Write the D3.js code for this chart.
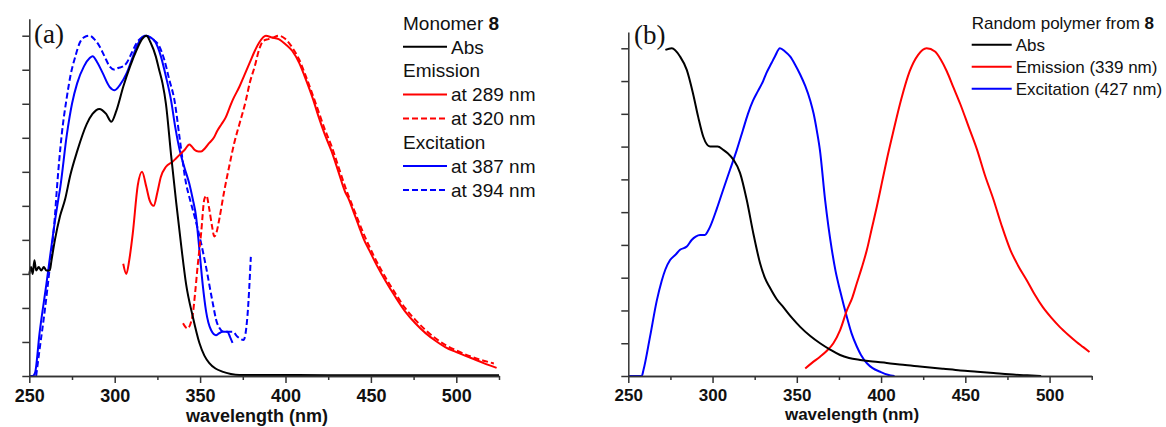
<!DOCTYPE html>
<html>
<head>
<meta charset="utf-8">
<script src="https://cdn.jsdelivr.net/npm/d3@7"></script>
<style>
  body { margin: 0; background: #fff; }
  svg { display: block; }
  .tekst { font-family: Arial, "Liberation Sans", sans-serif; fill: #111; }
  .paneel { font-family: "Times New Roman", "Liberation Serif", serif; fill: #111; }
  .as path, .as line { stroke: #333; stroke-width: 1.5; }
  .as text { font-family: Arial, "Liberation Sans", sans-serif; font-weight: bold; fill: #111; }
</style>
</head>
<body>
<div id="grafiek"></div>
<script>

// data: [golflengte (nm), genormaliseerde intensiteit]
var absA = [[250,0.30],[251,0.32],[252,0.30],[253,0.34],[254,0.31],[255.5,0.32],[257,0.31],[258.5,0.32],[260,0.31],[262,0.31],
  [263,0.34],[265,0.40],[268,0.47],[271,0.52],[274,0.59],[278,0.66],[283.6,0.74],[287,0.77],[291,0.785],[295,0.77],[298,0.747],
  [301,0.78],[305,0.85],[309,0.91],[313,0.96],[316,0.99],[318.6,1.0],[321,0.98],[324,0.94],[326,0.90],[328,0.86],[330,0.80],
  [333,0.65],[336,0.51],[339,0.38],[341.8,0.27],[345.7,0.175],[349.6,0.097],[352.5,0.06],[355.4,0.038],[359,0.022],[363,0.013],
  [368,0.006],[373,0.003],[400,0.003],[450,0.002],[500,0.002],[525,0.002]];

var emA289 = [[305,0.33],[306.8,0.30],[308.5,0.34],[310.6,0.42],[313.5,0.56],[316,0.60],[318.5,0.556],[320.4,0.517],[322.8,0.50],
  [325,0.54],[327,0.585],[330,0.615],[334,0.63],[336,0.64],[339,0.655],[341,0.665],[343.7,0.68],[345,0.675],[346.7,0.665],
  [349,0.66],[350.6,0.66],[353,0.67],[355.4,0.685],[358,0.70],[360,0.72],[362.5,0.74],[365,0.76],[367,0.785],[369,0.81],
  [373,0.85],[376,0.885],[379,0.92],[382,0.955],[384.6,0.98],[388.5,1.0],[392,0.995],
  [396,0.99],[400,0.975],[404,0.955],[408,0.92],[412,0.87],[416,0.815],[419.5,0.76],[423,0.71],[427,0.66],[431,0.60],[435,0.54],
  [437,0.52],[440,0.48],[443,0.44],[446,0.40],[449,0.37],[454,0.32],[458.5,0.28],[464,0.235],[470,0.19],[476,0.155],[482,0.126],
  [488,0.103],[493.5,0.085],[500,0.07],[508.6,0.053],[516,0.038],[523.6,0.024]];

var emA320 = [[340,0.155],[342.6,0.14],[345.5,0.175],[347,0.24],[348.5,0.32],[350.6,0.42],[352.5,0.52],[353.7,0.53],[355.4,0.49],
  [357,0.44],[358.3,0.41],[359.5,0.42],[361.2,0.46],[364,0.54],[367,0.615],[370,0.685],[373,0.74],[376.8,0.81],[379,0.86],
  [382,0.91],[384.6,0.96],[387,0.985],[390,0.99],[393,0.995],[396,1.0],[400,0.99],[404,0.965],[408,0.93],[412,0.88],[416,0.825],
  [419.5,0.775],[423,0.725],[427,0.675],[431,0.615],[435,0.555],[440,0.49],[446,0.415],[452,0.35],[458.5,0.29],[464,0.245],
  [470,0.2],[476,0.165],[482,0.135],[488,0.11],[494,0.09],[500,0.075],[508,0.058],[516,0.045],[522,0.037]];

var exA387 = [[250,0],[252,0],[253.4,0.01],[256,0.126],[260,0.27],[264,0.42],[267,0.52],[268,0.55],[272,0.71],[275,0.80],
  [278,0.86],[282,0.91],[285.5,0.935],[287,0.94],[290,0.92],[293,0.89],[297,0.85],[300,0.84],[303,0.855],[307,0.89],[310,0.93],
  [313,0.97],[317.5,1.0],[321,0.995],[324,0.98],[327,0.94],[330,0.88],[333,0.81],[335.5,0.73],[338,0.665],[341,0.61],
  [343.7,0.565],[345.7,0.52],[347.6,0.47],[349.6,0.37],[351.5,0.27],[353.5,0.19],[356.4,0.135],[359.3,0.12],[361,0.125],
  [363,0.13],[366,0.13],[367.5,0.115],[369,0.097]];

var exA394 = [[254,0],[256,0.077],[259,0.19],[262,0.32],[265,0.47],[266,0.54],[269,0.71],[272,0.82],[274,0.88],[277,0.94],
  [279.6,0.98],[282,0.995],[285.5,1.0],[288,0.99],[291,0.97],[294,0.94],[297,0.91],[300,0.9],[302,0.905],[305,0.91],[307,0.92],
  [310,0.95],[313,0.98],[316,0.995],[318.6,1.0],[322,0.99],[326,0.97],[329,0.93],[332,0.87],[335,0.81],[338,0.70],[341.8,0.565],
  [344,0.52],[346.7,0.47],[350.6,0.39],[353.5,0.32],[357.2,0.22],[360,0.155],[364,0.13],[369,0.13],[372,0.115],[375.4,0.106],
  [377.7,0.175],[379.7,0.35]];

var absB = [[272,0.995],[275.8,1.0],[280.7,0.975],[284.7,0.934],[288.5,0.86],[291.5,0.79],[294.5,0.73],[298.5,0.70],[303,0.70],
  [306.4,0.69],[309,0.68],[312.4,0.66],[316.3,0.62],[320.3,0.537],[324.2,0.435],[328.2,0.344],[331,0.30],[334,0.27],[338,0.235],
  [342,0.21],[347,0.178],[352,0.15],[358,0.122],[363.8,0.10],[370,0.08],[375.7,0.064],[381,0.055],[387.6,0.049],[395,0.044],
  [403.4,0.04],[413,0.034],[423,0.029],[437,0.022],[447,0.017],[457,0.013],[466.7,0.009],[476,0.005],[486.7,0.002],[495,0.0]];

var emB = [[355,0.023],[359,0.04],[363.8,0.059],[368,0.078],[371.7,0.10],[375.7,0.14],[379.7,0.20],[383,0.24],[385.6,0.283],
  [388.5,0.33],[391.6,0.385],[394.5,0.45],[397.5,0.517],[400.5,0.59],[403.4,0.66],[407,0.74],[412,0.845],[417,0.93],[422,0.98],
  [427,1.0],[432,0.99],[435.5,0.965],[439,0.93],[443,0.88],[447,0.83],[452,0.76],[457,0.69],[461.5,0.615],[466.6,0.54],
  [471.5,0.46],[476.7,0.385],[481.5,0.335],[486.7,0.29],[491,0.25],[496,0.21],[501,0.178],[506,0.15],[511,0.126],[516,0.104],
  [520,0.088],[523.7,0.073]];

var exB = [[250,0],[258,0],[259,0.018],[262.9,0.12],[266.9,0.23],[269.8,0.29],[272,0.325],[274.8,0.354],[278,0.37],[280.7,0.385],
  [284.7,0.395],[287.6,0.415],[290,0.425],[292.6,0.43],[295.5,0.43],[297,0.44],[298.5,0.455],[302.5,0.51],[306.4,0.57],
  [310.4,0.63],[314.4,0.69],[318,0.75],[321,0.80],[324,0.84],[327,0.87],[330,0.90],[332,0.925],[335,0.955],[337,0.975],
  [340,1.0],[343,0.99],[346,0.975],[349,0.95],[352,0.92],[355,0.885],[358,0.84],[360,0.80],[362,0.745],[363.7,0.69],
  [366.8,0.537],[370.8,0.385],[373,0.32],[375.7,0.26],[379.7,0.18],[382.5,0.13],[385.6,0.09],[388,0.065],[391.6,0.039],
  [395,0.024],[399.5,0.013],[404,0.004],[408,0.0]];

// tick labels en legenda teksten
var xMajor = [250, 300, 350, 400, 450, 500];
var xMinor = [275, 325, 375, 425, 475, 525];
var yTicks = [0, 0.1, 0.2, 0.3, 0.4, 0.5, 0.6, 0.7, 0.8, 0.9, 1.0];
var legendaA = [
  {kop: "Monomer ", vet: "8"},
  {label: "Abs", data: absA, kleur: "#000000", streep: null},
  {kop: "Emission"},
  {label: "at 289 nm", data: emA289, kleur: "#ff0000", streep: null},
  {label: "at 320 nm", data: emA320, kleur: "#ff0000", streep: "6,3"},
  {kop: "Excitation"},
  {label: "at 387 nm", data: exA387, kleur: "#0000ff", streep: null},
  {label: "at 394 nm", data: exA394, kleur: "#0000ff", streep: "6,3"}
];
var legendaB = [
  {kop: "Random polymer from ", vet: "8"},
  {label: "Abs", data: absB, kleur: "#000000", streep: null},
  {label: "Emission (339 nm)", data: emB, kleur: "#ff0000", streep: null},
  {label: "Excitation (427 nm)", data: exB, kleur: "#0000ff", streep: null}
];

var breedte = 1166, hoogte = 427;

var svg = d3.select("#grafiek")
            .append("svg")
            .attr("width", breedte)
            .attr("height", hoogte);

function paneel(opties) {

  var x = d3.scaleLinear().domain([250, 525]).range([opties.links, opties.rechts]);
  var y = d3.scaleLinear().domain([0, 1.05]).range([opties.onder, opties.boven]);

  var g = svg.append("g");

  // de curves
  var lijn = d3.line()
               .x(function(d) { return x(d[0]); })
               .y(function(d) { return y(d[1]); })
               .curve(d3.curveMonotoneX);

  var series = opties.legenda.filter(function(d) { return d.data; });

  g.selectAll(".curve")
   .data(series.slice().reverse())
   .enter()
   .append("path")
   .attr("class", "curve")
   .attr("d", function(d) { return lijn(d.data); })
   .attr("fill", "none")
   .attr("stroke", function(d) { return d.kleur; })
   .attr("stroke-width", 2)
   .attr("stroke-dasharray", function(d) { return d.streep; });

  // x as: grote en kleine streepjes
  g.append("g")
   .attr("class", "as")
   .attr("transform", "translate(0," + opties.onder + ")")
   .call(d3.axisBottom(x).tickValues(xMinor).tickSize(4).tickFormat("").tickSizeOuter(0));

  g.append("g")
   .attr("class", "as")
   .attr("transform", "translate(0," + opties.onder + ")")
   .call(d3.axisBottom(x).tickValues(xMajor).tickSize(7).tickPadding(6).tickSizeOuter(0))
   .selectAll("text")
   .style("font-size", opties.fontAs + "px");

  // y as zonder labels
  g.append("g")
   .attr("class", "as")
   .attr("transform", "translate(" + opties.links + ",0)")
   .call(d3.axisLeft(y).tickValues(yTicks).tickSize(7).tickFormat("").tickSizeOuter(0));

  // as titel
  g.append("text")
   .attr("class", "tekst")
   .attr("x", opties.titelX)
   .attr("y", opties.titelY)
   .attr("text-anchor", "middle")
   .style("font-size", opties.fontAs + "px")
   .style("font-weight", "bold")
   .text("wavelength (nm)");

  // paneel letter
  g.append("text")
   .attr("class", "paneel")
   .attr("x", opties.letterX)
   .attr("y", opties.letterY)
   .style("font-size", "27px")
   .text(opties.letter);

  // legenda
  var legenda = g.append("g")
                 .attr("transform", "translate(" + opties.legX + "," + opties.legY + ")");

  var rij = legenda.selectAll("g")
                   .data(opties.legenda)
                   .enter()
                   .append("g")
                   .attr("transform", function(d, i) { return "translate(0," + (i * opties.legStap) + ")"; });

  rij.filter(function(d) { return d.data; })
     .append("line")
     .attr("x1", 0)
     .attr("x2", opties.legLijn)
     .attr("stroke", function(d) { return d.kleur; })
     .attr("stroke-width", 2)
     .attr("stroke-dasharray", function(d) { return d.streep; });

  var t = rij.append("text")
             .attr("class", "tekst")
             .attr("x", function(d) { return d.data ? opties.legLijn + 4 : 0; })
             .attr("dy", "0.35em")
             .style("font-size", opties.fontLeg + "px");

  t.append("tspan").text(function(d) { return d.kop || d.label; });
  t.filter(function(d) { return d.vet; })
   .append("tspan")
   .style("font-weight", "bold")
   .text(function(d) { return d.vet; });
}

paneel({links: 29.3, rechts: 499, boven: 18.7, onder: 376, legenda: legendaA,
        legX: 403, legY: 23, legStap: 23.85, legLijn: 44, fontLeg: 19, fontAs: 18,
        titelX: 257, titelY: 422, letter: "(a)", letterX: 34, letterY: 43});

paneel({links: 628.3, rechts: 1091.7, boven: 31.9, onder: 376, legenda: legendaB,
        legX: 971.7, legY: 22.7, legStap: 22, legLijn: 40, fontLeg: 17, fontAs: 17,
        titelX: 852, titelY: 420, letter: "(b)", letterX: 634, letterY: 44});

</script>
</body>
</html>
